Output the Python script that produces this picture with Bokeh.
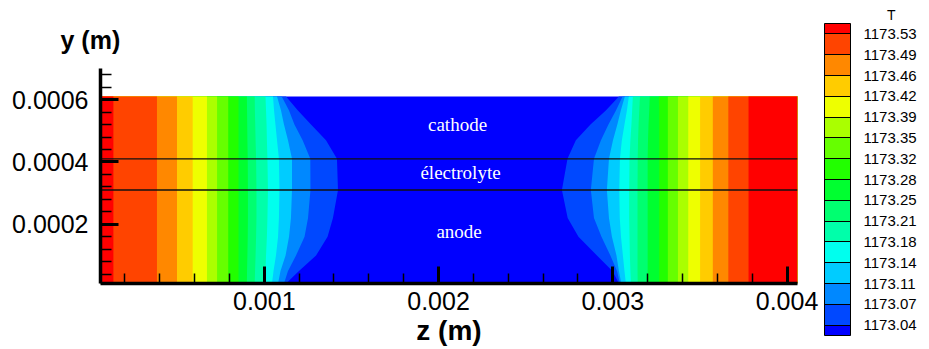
from bokeh.plotting import figure
from bokeh.models import Range1d, FixedTicker, ColorBar, LinearColorMapper, Label
from bokeh.embed import file_html
from bokeh.resources import INLINE
from bokeh.core.properties import value

# ---------------- data ----------------
level_labels = ["1173.04", "1173.07", "1173.11", "1173.14", "1173.18", "1173.21", "1173.25",
                "1173.28", "1173.32", "1173.35", "1173.39", "1173.42", "1173.46", "1173.49", "1173.53"]
band_colors = ["#0000FF", "#0048FF", "#0088FF", "#00CCFF", "#00FFEE", "#00FFAA", "#00FF70",
               "#00FF30", "#22FF00", "#66FF00", "#AAFF00", "#EEFF00", "#FFCC00", "#FF8800",
               "#FF4400", "#FF0000"]

z_extent = [0.00006, 0.00406]
y_extent = [0.00001, 0.00061]
interfaces = [0.00031, 0.00041]

y_samples = [0.00001, 0.00005, 0.00010, 0.00016, 0.00022, 0.00031, 0.00041, 0.00047, 0.00052, 0.000565, 0.00061]

# z position of each contour level (1173.04 ... 1173.53) at each y sample, left side
left_contours = [
    [0.001125, 0.001199, 0.001297, 0.001363, 0.001394, 0.001423, 0.001417, 0.001354, 0.001268, 0.001193, 0.001125],
    [0.001113, 0.001136, 0.001182, 0.001231, 0.001251, 0.001265, 0.001264, 0.001220, 0.001173, 0.001142, 0.001100],
    [0.001079, 0.001093, 0.001122, 0.001142, 0.001153, 0.001159, 0.001159, 0.001136, 0.001113, 0.001096, 0.001073],
    [0.001044, 0.001053, 0.001067, 0.001079, 0.001084, 0.001087, 0.001084, 0.001073, 0.001064, 0.001056, 0.001050],
    [0.001004, 0.001007, 0.001010, 0.001015, 0.001018, 0.001021, 0.001018, 0.001015, 0.001013, 0.001010, 0.001007],
    [0.000945, 0.000947, 0.000950, 0.000953, 0.000955, 0.000955, 0.000953, 0.000950, 0.000948, 0.000946, 0.000945],
    [0.000900, 0.000901, 0.000903, 0.000905, 0.000906, 0.000906, 0.000905, 0.000903, 0.000902, 0.000901, 0.000900],
    [0.000852, 0.000852, 0.000852, 0.000852, 0.000852, 0.000852, 0.000852, 0.000852, 0.000852, 0.000852, 0.000852],
    [0.000793, 0.000793, 0.000793, 0.000793, 0.000793, 0.000793, 0.000793, 0.000793, 0.000793, 0.000793, 0.000793],
    [0.000729, 0.000729, 0.000729, 0.000729, 0.000729, 0.000729, 0.000729, 0.000729, 0.000729, 0.000729, 0.000729],
    [0.000671, 0.000671, 0.000671, 0.000671, 0.000671, 0.000671, 0.000671, 0.000671, 0.000671, 0.000671, 0.000671],
    [0.000589, 0.000589, 0.000589, 0.000589, 0.000589, 0.000589, 0.000589, 0.000589, 0.000589, 0.000589, 0.000589],
    [0.000499, 0.000499, 0.000499, 0.000499, 0.000499, 0.000499, 0.000499, 0.000499, 0.000499, 0.000499, 0.000499],
    [0.000384, 0.000384, 0.000384, 0.000384, 0.000384, 0.000384, 0.000384, 0.000384, 0.000384, 0.000384, 0.000384],
    [0.000134, 0.000134, 0.000134, 0.000134, 0.000134, 0.000134, 0.000134, 0.000134, 0.000134, 0.000134, 0.000134],
]

# same, right side
right_contours = [
    [0.003035, 0.002998, 0.002909, 0.002803, 0.002741, 0.002708, 0.002740, 0.002788, 0.002872, 0.002960, 0.003035],
    [0.003041, 0.003024, 0.002986, 0.002935, 0.002892, 0.002874, 0.002892, 0.002932, 0.002975, 0.003018, 0.003056],
    [0.003049, 0.003035, 0.003021, 0.002995, 0.002978, 0.002966, 0.002978, 0.003001, 0.003026, 0.003046, 0.003069],
    [0.003075, 0.003067, 0.003058, 0.003047, 0.003040, 0.003037, 0.003041, 0.003052, 0.003067, 0.003081, 0.003092],
    [0.003104, 0.003101, 0.003098, 0.003096, 0.003094, 0.003094, 0.003096, 0.003101, 0.003107, 0.003111, 0.003115],
    [0.003143, 0.003142, 0.003142, 0.003142, 0.003142, 0.003142, 0.003143, 0.003145, 0.003148, 0.003152, 0.003156],
    [0.003200, 0.003200, 0.003200, 0.003200, 0.003200, 0.003200, 0.003200, 0.003202, 0.003205, 0.003209, 0.003212],
    [0.003266, 0.003266, 0.003266, 0.003266, 0.003266, 0.003266, 0.003266, 0.003266, 0.003266, 0.003266, 0.003264],
    [0.003316, 0.003316, 0.003316, 0.003316, 0.003316, 0.003316, 0.003316, 0.003316, 0.003316, 0.003316, 0.003316],
    [0.003374, 0.003374, 0.003374, 0.003374, 0.003374, 0.003374, 0.003374, 0.003374, 0.003374, 0.003374, 0.003374],
    [0.003433, 0.003433, 0.003433, 0.003433, 0.003433, 0.003433, 0.003433, 0.003433, 0.003433, 0.003433, 0.003433],
    [0.003501, 0.003501, 0.003501, 0.003501, 0.003501, 0.003501, 0.003501, 0.003501, 0.003501, 0.003501, 0.003501],
    [0.003574, 0.003574, 0.003574, 0.003574, 0.003574, 0.003574, 0.003574, 0.003574, 0.003574, 0.003574, 0.003574],
    [0.003663, 0.003663, 0.003663, 0.003663, 0.003663, 0.003663, 0.003663, 0.003663, 0.003663, 0.003663, 0.003663],
    [0.003779, 0.003779, 0.003779, 0.003779, 0.003779, 0.003779, 0.003779, 0.003779, 0.003779, 0.003779, 0.003779],
]

layer_names = ["anode", "électrolyte", "cathode"]

x_major = [0.001, 0.002, 0.003, 0.004]
x_major_labels = ["0.001", "0.002", "0.003", "0.004"]
x_minor = [0.0002, 0.0004, 0.0006, 0.0008, 0.0012, 0.0014, 0.0016, 0.0018,
           0.0022, 0.0024, 0.0026, 0.0028, 0.0032, 0.0034, 0.0036, 0.0038]
y_major = [0.0002, 0.0004, 0.0006]
y_major_labels = ["0.0002", "0.0004", "0.0006"]
y_minor = [0.00004, 0.00008, 0.00012, 0.00016, 0.00024, 0.00028, 0.00032, 0.00036,
           0.00044, 0.00048, 0.00052, 0.00056, 0.00064, 0.00068]

# ---------------- main plot ----------------
SANS = "Liberation Sans"
p = figure(width=929, height=349,
           x_range=Range1d(0.00006, 0.00406), y_range=Range1d(0.00001, 0.0007),
           output_backend="svg", toolbar_location=None,
           min_border_left=100, min_border_right=132, min_border_top=68, min_border_bottom=66)
p.outline_line_color = None
p.grid.visible = False
p.background_fill_color = "white"
p.border_fill_color = "white"

z0, z1 = z_extent
y0, y1 = y_extent

# lowest band as background of the domain
p.quad(left=[z0], right=[z1], bottom=[y0], top=[y1], fill_color=band_colors[0], line_color=None)

xs, ys, cols = [], [], []
for k, c in enumerate(left_contours):
    xs.append([z0] + c + [z0])
    ys.append([y_samples[0]] + y_samples + [y_samples[-1]])
    cols.append(band_colors[k + 1])
for k, c in enumerate(right_contours):
    xs.append([z1] + c + [z1])
    ys.append([y_samples[0]] + y_samples + [y_samples[-1]])
    cols.append(band_colors[k + 1])
p.patches(xs=xs, ys=ys, fill_color=cols, line_color=None)

p.multi_line(xs=[[z0, z1] for _ in interfaces], ys=[[v, v] for v in interfaces],
             line_color="#111111", line_width=1.4)

p.text(x=[0.002118, 0.002126, 0.002109], y=[0.000177, 0.000366, 0.000520], text=layer_names,
       text_color="white", text_font=value("Liberation Serif"), text_font_size="19px",
       text_align="center", text_baseline="middle")

for ax in (p.xaxis[0], p.yaxis[0]):
    ax.axis_line_width = 3.5
    ax.axis_line_color = "black"
    ax.major_tick_line_width = 3
    ax.major_tick_line_color = "black"
    ax.minor_tick_line_width = 1.5
    ax.minor_tick_line_color = "black"
    ax.major_tick_out = 0
    ax.minor_tick_out = 0
    ax.major_label_text_font = SANS
    ax.major_label_text_font_size = "25px"
    ax.major_label_text_color = "black"

p.xaxis.ticker = FixedTicker(ticks=x_major, minor_ticks=x_minor)
p.xaxis.major_label_overrides = dict(zip(x_major, x_major_labels))
p.xaxis.major_tick_in = 17
p.xaxis.minor_tick_in = 10
p.xaxis.major_label_standoff = 8
p.xaxis.axis_label = "z (m)"
p.xaxis.axis_label_text_font = SANS
p.xaxis.axis_label_text_font_style = "bold"
p.xaxis.axis_label_text_font_size = "28px"
p.xaxis.axis_label_text_color = "black"
p.xaxis.axis_label_standoff = 2

p.yaxis.ticker = FixedTicker(ticks=y_major, minor_ticks=y_minor)
p.yaxis.major_label_overrides = dict(zip(y_major, y_major_labels))
p.yaxis.major_tick_in = 18
p.yaxis.minor_tick_in = 11
p.yaxis.major_label_standoff = 12

# "y (m)" written above the y axis
p.title.text = "y (m)"
p.title.align = "left"
p.title.offset = -40
p.title.standoff = 29
p.title.text_font = SANS
p.title.text_font_style = "bold"
p.title.text_font_size = "25px"
p.title.text_color = "black"

# ---------------- colour legend ----------------
palette = []
for i, c in enumerate(band_colors):
    palette += [c] if i in (0, len(band_colors) - 1) else [c, c]
nlev = len(level_labels)
mapper = LinearColorMapper(palette=palette, low=-0.5, high=nlev - 0.5)
cbar = ColorBar(color_mapper=mapper, orientation="vertical", location=(27, -52),
                width=26, height=312, padding=0, margin=0,
                ticker=FixedTicker(ticks=list(range(nlev))),
                major_label_overrides={i: lab for i, lab in enumerate(level_labels)},
                major_tick_in=26, major_tick_out=0, major_tick_line_color="black",
                major_tick_line_width=1, minor_tick_line_color=None,
                bar_line_color="black", bar_line_width=1, label_standoff=13,
                major_label_text_font=SANS, major_label_text_font_size="15px",
                major_label_text_color="black",
                background_fill_alpha=0, border_line_color=None)
p.add_layout(cbar, "right")

p.add_layout(Label(x=0.0045977, y=0.0008733, text="T", text_align="center",
                   text_baseline="alphabetic", text_font=SANS, text_font_size="14px",
                   text_color="black"), "right")

open("out.html", "w").write(file_html(p, INLINE))
